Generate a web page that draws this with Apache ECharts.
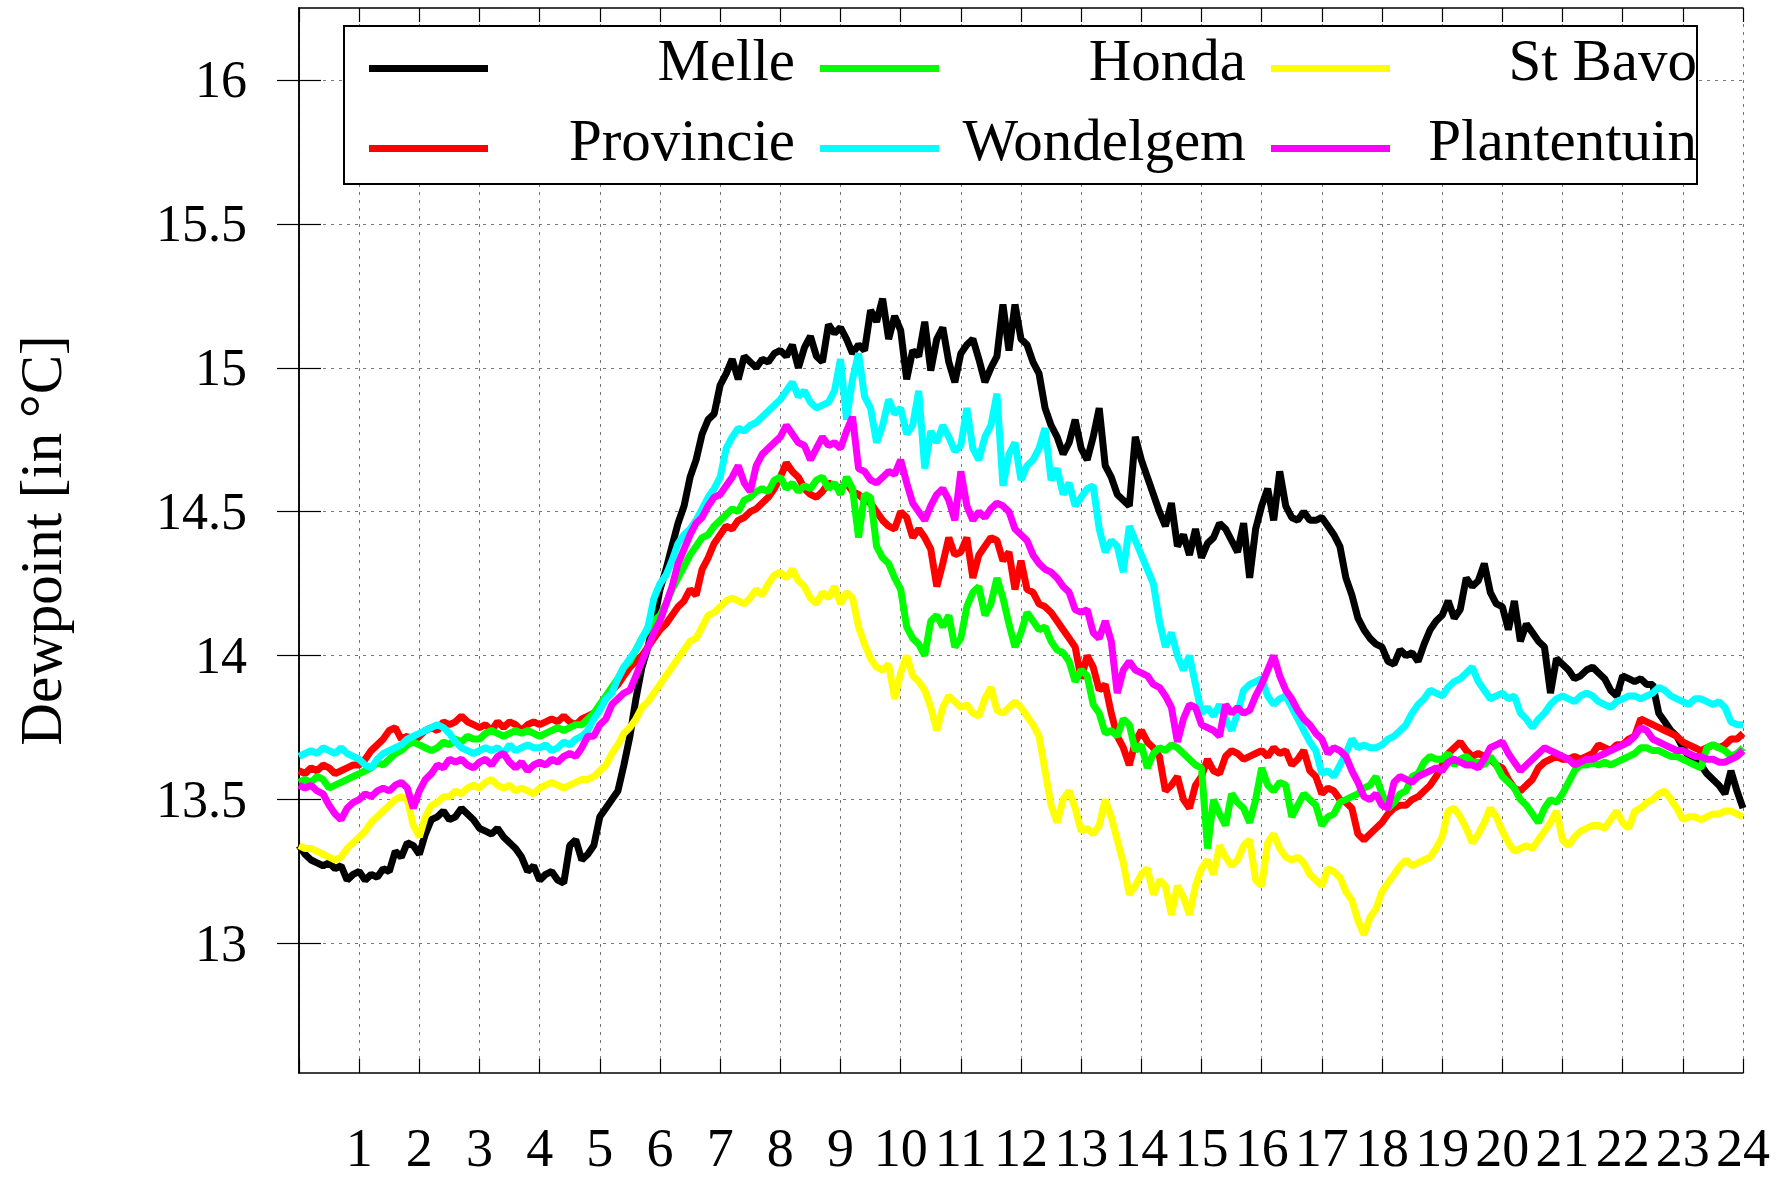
<!DOCTYPE html>
<html>
<head>
<meta charset="utf-8">
<script src="https://cdn.jsdelivr.net/npm/echarts@6/dist/echarts.min.js"></script>
<style>html,body{margin:0;padding:0;background:#fff}#c{width:1780px;height:1178px}</style>
</head>
<body>
<div id="c"></div>
<script>
// Sampling step of the series, in hours (values start at hour 0)
const STEP = 0.1;
const X_TICKS = [1,2,3,4,5,6,7,8,9,10,11,12,13,14,15,16,17,18,19,20,21,22,23,24];
const Y_TICKS = [13, 13.5, 14, 14.5, 15, 15.5, 16];
const NAMES = ['Melle', 'Provincie', 'Honda', 'Wondelgem', 'St Bavo', 'Plantentuin'];
const COLORS = ['#000000', '#ff0000', '#00ff00', '#00ffff', '#ffff00', '#ff00ff'];

const MELLE = [
13.34,13.31,13.29,13.28,13.27,13.28,13.26,13.27,13.22,13.24,
13.25,13.22,13.24,13.23,13.26,13.25,13.32,13.30,13.35,13.34,
13.31,13.38,13.43,13.44,13.46,13.43,13.44,13.47,13.45,13.43,
13.40,13.39,13.38,13.40,13.37,13.35,13.33,13.30,13.25,13.27,
13.22,13.24,13.25,13.22,13.21,13.34,13.36,13.29,13.31,13.34,
13.44,13.47,13.50,13.53,13.62,13.72,13.85,13.96,14.03,14.12,
14.23,14.30,14.38,14.46,14.52,14.62,14.68,14.77,14.82,14.84,
14.94,14.98,15.03,14.96,15.04,15.02,15.00,15.03,15.02,15.05,
15.06,15.04,15.08,15.00,15.07,15.11,15.04,15.02,15.15,15.12,
15.14,15.10,15.05,15.08,15.06,15.20,15.16,15.24,15.10,15.18,
15.13,14.96,15.06,15.04,15.16,14.99,15.10,15.14,15.02,14.95,
15.05,15.08,15.10,15.03,14.95,15.00,15.04,15.22,15.06,15.22,
15.10,15.08,15.02,14.98,14.86,14.80,14.76,14.70,14.74,14.82,
14.72,14.68,14.76,14.86,14.66,14.62,14.56,14.54,14.52,14.76,
14.68,14.62,14.56,14.50,14.45,14.53,14.38,14.42,14.35,14.44,
14.34,14.39,14.41,14.46,14.44,14.40,14.36,14.46,14.27,14.44,
14.52,14.58,14.47,14.64,14.52,14.48,14.47,14.50,14.47,14.47,
14.48,14.45,14.42,14.38,14.27,14.21,14.13,14.09,14.06,14.04,
14.03,13.98,13.97,14.02,14.00,14.01,13.98,14.04,14.09,14.12,
14.14,14.19,14.13,14.16,14.27,14.24,14.26,14.32,14.22,14.18,
14.17,14.09,14.19,14.05,14.11,14.08,14.05,14.03,13.87,13.99,
13.97,13.95,13.92,13.93,13.95,13.96,13.94,13.92,13.88,13.86,
13.93,13.92,13.91,13.92,13.90,13.90,13.80,13.77,13.74,13.72,
13.68,13.65,13.63,13.62,13.59,13.57,13.55,13.52,13.60,13.53,
13.47];

const PROVINCIE = [
13.60,13.59,13.61,13.60,13.62,13.61,13.59,13.60,13.61,13.62,
13.62,13.64,13.67,13.69,13.71,13.74,13.75,13.71,13.72,13.70,
13.72,13.74,13.75,13.74,13.77,13.76,13.77,13.79,13.77,13.76,
13.75,13.76,13.74,13.77,13.75,13.77,13.76,13.74,13.76,13.77,
13.76,13.77,13.78,13.77,13.79,13.77,13.76,13.78,13.79,13.80,
13.82,13.85,13.88,13.90,13.93,13.96,13.98,14.00,14.03,14.06,
14.09,14.11,14.14,14.17,14.19,14.23,14.21,14.30,14.34,14.39,
14.42,14.45,14.44,14.47,14.48,14.50,14.51,14.53,14.55,14.58,
14.62,14.67,14.64,14.62,14.58,14.56,14.55,14.57,14.60,14.59,
14.58,14.60,14.57,14.56,14.54,14.53,14.50,14.47,14.45,14.44,
14.50,14.48,14.41,14.44,14.41,14.37,14.24,14.32,14.41,14.35,
14.36,14.41,14.27,14.35,14.38,14.41,14.40,14.33,14.36,14.23,
14.33,14.23,14.22,14.18,14.17,14.15,14.12,14.09,14.06,14.03,
13.92,14.00,13.96,13.88,13.90,13.80,13.72,13.68,13.62,13.70,
13.74,13.70,13.68,13.65,13.53,13.55,13.58,13.50,13.47,13.55,
13.58,13.64,13.60,13.59,13.65,13.67,13.66,13.64,13.65,13.66,
13.67,13.65,13.68,13.66,13.67,13.62,13.64,13.67,13.60,13.58,
13.52,13.54,13.53,13.50,13.49,13.47,13.38,13.36,13.38,13.40,
13.42,13.45,13.47,13.48,13.48,13.50,13.51,13.53,13.55,13.58,
13.62,13.66,13.68,13.70,13.67,13.65,13.66,13.65,13.64,13.62,
13.61,13.57,13.54,13.53,13.55,13.57,13.61,13.63,13.64,13.65,
13.64,13.64,13.65,13.64,13.65,13.66,13.69,13.68,13.67,13.69,
13.69,13.71,13.72,13.78,13.77,13.76,13.75,13.74,13.73,13.72,
13.70,13.69,13.68,13.67,13.68,13.69,13.68,13.69,13.71,13.71,
13.73];

const HONDA = [
13.56,13.57,13.56,13.58,13.57,13.54,13.55,13.56,13.57,13.58,
13.59,13.60,13.61,13.63,13.62,13.64,13.66,13.67,13.69,13.70,
13.69,13.68,13.67,13.68,13.70,13.69,13.71,13.70,13.72,13.71,
13.71,13.73,13.74,13.73,13.72,13.73,13.74,13.73,13.74,13.73,
13.72,13.73,13.74,13.75,13.74,13.75,13.76,13.76,13.78,13.80,
13.83,13.86,13.89,13.92,13.96,13.98,14.02,14.06,14.09,14.12,
14.14,14.18,14.23,14.27,14.31,14.35,14.38,14.41,14.42,14.45,
14.47,14.49,14.51,14.50,14.54,14.55,14.57,14.58,14.57,14.61,
14.62,14.58,14.60,14.57,14.59,14.58,14.61,14.62,14.58,14.60,
14.56,14.62,14.58,14.41,14.56,14.55,14.38,14.34,14.32,14.27,
14.23,14.10,14.06,14.04,14.00,14.12,14.14,14.10,14.14,14.03,
14.06,14.17,14.22,14.24,14.14,14.18,14.27,14.20,14.11,14.03,
14.08,14.15,14.12,14.09,14.10,14.05,14.02,14.01,13.98,13.91,
13.95,13.93,13.83,13.80,13.73,13.74,13.72,13.78,13.76,13.67,
13.69,13.61,13.66,13.68,13.67,13.69,13.68,13.66,13.64,13.62,
13.61,13.33,13.50,13.45,13.41,13.52,13.49,13.47,13.42,13.50,
13.61,13.55,13.53,13.56,13.55,13.44,13.48,13.52,13.50,13.48,
13.41,13.44,13.45,13.49,13.50,13.51,13.52,13.54,13.55,13.58,
13.52,13.47,13.49,13.52,13.53,13.58,13.59,13.63,13.65,13.64,
13.64,13.66,13.62,13.64,13.65,13.63,13.63,13.62,13.65,13.62,
13.58,13.56,13.54,13.50,13.48,13.45,13.42,13.47,13.50,13.49,
13.52,13.56,13.60,13.62,13.62,13.63,13.62,13.63,13.62,13.63,
13.64,13.65,13.66,13.68,13.68,13.67,13.67,13.66,13.65,13.65,
13.64,13.63,13.62,13.61,13.68,13.69,13.68,13.67,13.65,13.66,
13.68];

const WONDELGEM = [
13.65,13.66,13.67,13.66,13.68,13.67,13.66,13.68,13.66,13.65,
13.64,13.62,13.61,13.64,13.66,13.67,13.68,13.69,13.71,13.72,
13.73,13.74,13.75,13.76,13.75,13.73,13.70,13.68,13.67,13.66,
13.67,13.68,13.67,13.68,13.66,13.69,13.67,13.68,13.69,13.68,
13.68,13.69,13.67,13.68,13.70,13.69,13.71,13.72,13.74,13.78,
13.81,13.85,13.87,13.92,13.96,13.99,14.02,14.06,14.10,14.20,
14.25,14.28,14.33,14.39,14.42,14.44,14.47,14.51,14.55,14.58,
14.62,14.72,14.76,14.79,14.78,14.80,14.81,14.83,14.85,14.87,
14.89,14.92,14.95,14.90,14.92,14.88,14.86,14.87,14.88,14.92,
15.03,14.82,14.96,15.05,14.90,14.86,14.74,14.80,14.89,14.84,
14.86,14.77,14.80,14.92,14.65,14.78,14.74,14.80,14.76,14.71,
14.73,14.86,14.72,14.68,14.76,14.80,14.91,14.59,14.70,14.74,
14.61,14.66,14.68,14.72,14.79,14.61,14.65,14.56,14.60,14.52,
14.55,14.58,14.59,14.44,14.36,14.40,14.38,14.29,14.45,14.40,
14.35,14.30,14.25,14.12,14.03,14.08,14.00,13.95,14.00,13.90,
13.80,13.82,13.79,13.83,13.78,13.74,13.80,13.88,13.90,13.91,
13.92,13.86,13.83,13.85,13.86,13.82,13.78,13.74,13.70,13.67,
13.59,13.60,13.58,13.62,13.66,13.71,13.68,13.69,13.68,13.68,
13.69,13.71,13.72,13.74,13.76,13.80,13.83,13.85,13.88,13.87,
13.86,13.89,13.91,13.92,13.94,13.96,13.91,13.88,13.85,13.86,
13.87,13.85,13.86,13.80,13.78,13.75,13.78,13.80,13.83,13.85,
13.86,13.85,13.84,13.86,13.87,13.86,13.84,13.83,13.82,13.84,
13.85,13.86,13.86,13.85,13.86,13.87,13.89,13.88,13.86,13.85,
13.84,13.83,13.85,13.85,13.84,13.83,13.84,13.82,13.77,13.76,
13.76];

const ST_BAVO = [
13.34,13.33,13.33,13.32,13.31,13.30,13.29,13.30,13.33,13.35,
13.37,13.39,13.42,13.44,13.46,13.48,13.50,13.51,13.50,13.41,
13.37,13.44,13.48,13.49,13.51,13.51,13.53,13.52,13.54,13.55,
13.54,13.56,13.57,13.55,13.54,13.55,13.53,13.54,13.53,13.52,
13.54,13.55,13.56,13.55,13.54,13.55,13.56,13.57,13.57,13.58,
13.60,13.62,13.66,13.69,13.73,13.75,13.78,13.82,13.84,13.87,
13.90,13.93,13.96,13.99,14.02,14.05,14.06,14.10,14.14,14.15,
14.17,14.19,14.20,14.19,14.18,14.20,14.23,14.21,14.25,14.28,
14.29,14.27,14.30,14.26,14.24,14.20,14.18,14.22,14.20,14.24,
14.18,14.22,14.20,14.10,14.04,13.99,13.96,13.95,13.97,13.85,
13.94,14.00,13.93,13.91,13.88,13.82,13.74,13.82,13.86,13.84,
13.82,13.83,13.80,13.79,13.85,13.89,13.81,13.80,13.82,13.84,
13.82,13.79,13.76,13.72,13.60,13.48,13.42,13.50,13.53,13.47,
13.39,13.40,13.38,13.41,13.50,13.44,13.36,13.28,13.17,13.20,
13.24,13.26,13.17,13.22,13.20,13.10,13.20,13.16,13.10,13.20,
13.26,13.29,13.24,13.34,13.30,13.27,13.29,13.34,13.36,13.22,
13.20,13.35,13.38,13.33,13.30,13.29,13.30,13.28,13.24,13.22,
13.20,13.26,13.25,13.23,13.18,13.15,13.08,13.03,13.09,13.12,
13.18,13.21,13.24,13.27,13.29,13.27,13.28,13.29,13.30,13.33,
13.37,13.46,13.47,13.44,13.40,13.35,13.38,13.42,13.47,13.44,
13.39,13.35,13.32,13.33,13.34,13.33,13.36,13.39,13.42,13.46,
13.36,13.34,13.37,13.39,13.40,13.41,13.41,13.40,13.43,13.46,
13.42,13.40,13.46,13.47,13.49,13.50,13.52,13.53,13.50,13.47,
13.43,13.44,13.44,13.43,13.44,13.45,13.45,13.46,13.46,13.45,
13.44];

const PLANTENTUIN = [
13.55,13.54,13.55,13.53,13.52,13.48,13.45,13.43,13.47,13.49,
13.50,13.52,13.51,13.53,13.54,13.53,13.55,13.56,13.54,13.47,
13.53,13.57,13.59,13.62,13.61,13.64,13.63,13.64,13.62,13.61,
13.63,13.64,13.62,13.65,13.66,13.63,13.61,13.63,13.60,13.62,
13.63,13.62,13.64,13.63,13.65,13.66,13.65,13.68,13.72,13.72,
13.76,13.78,13.83,13.85,13.87,13.88,13.93,13.98,14.03,14.08,
14.12,14.18,14.24,14.32,14.37,14.42,14.46,14.48,14.52,14.55,
14.56,14.59,14.62,14.66,14.60,14.57,14.66,14.70,14.72,14.74,
14.76,14.80,14.77,14.74,14.73,14.68,14.72,14.76,14.73,14.74,
14.72,14.78,14.83,14.65,14.64,14.61,14.60,14.62,14.64,14.63,
14.68,14.60,14.53,14.50,14.47,14.52,14.56,14.58,14.54,14.47,
14.64,14.52,14.47,14.50,14.48,14.51,14.53,14.52,14.50,14.44,
14.42,14.40,14.35,14.32,14.30,14.29,14.27,14.24,14.22,14.16,
14.15,14.16,14.08,14.06,14.12,14.05,13.87,13.95,13.98,13.95,
13.94,13.93,13.90,13.89,13.86,13.82,13.70,13.78,13.83,13.82,
13.76,13.75,13.74,13.72,13.83,13.80,13.82,13.80,13.81,13.86,
13.90,13.95,14.00,13.93,13.88,13.85,13.81,13.78,13.76,13.73,
13.71,13.66,13.68,13.67,13.65,13.60,13.56,13.51,13.50,13.52,
13.48,13.47,13.56,13.58,13.57,13.56,13.58,13.59,13.60,13.61,
13.60,13.63,13.64,13.63,13.62,13.62,13.61,13.64,13.68,13.69,
13.70,13.66,13.63,13.60,13.62,13.64,13.66,13.68,13.67,13.66,
13.65,13.64,13.62,13.63,13.64,13.64,13.65,13.66,13.67,13.68,
13.69,13.70,13.72,13.75,13.74,13.71,13.70,13.69,13.68,13.67,
13.67,13.66,13.65,13.65,13.64,13.64,13.63,13.63,13.64,13.65,
13.67];

const SERIES_VALUES = [MELLE, PROVINCIE, HONDA, WONDELGEM, ST_BAVO, PLANTENTUIN];
const LEGEND_ROW1 = ['Melle', 'Honda', 'St Bavo'];
const LEGEND_ROW2 = ['Provincie', 'Wondelgem', 'Plantentuin'];

const FONT = 'Liberation Serif';
const chart = echarts.init(document.getElementById('c'), null, {renderer: 'svg'});

// legend key: a bar at the bottom of the key box, so the label sits a little above the bar
const KEY_ICON = 'path://M0,0h0.01v0.01h-0.01z M0,18h119v7h-119z';
const legendBase = {
  left: 369, padding: 0, itemGap: 25, itemWidth: 119, itemHeight: 25, icon: KEY_ICON,
  formatter: n => '{r|' + n + '}',
  textStyle: { color: '#000', rich: { r: { width: 302, align: 'right', fontSize: 59, fontFamily: FONT, color: '#000', lineHeight: 54 } } },
  selectedMode: false
};

const gridLine = { show: true, lineStyle: { color: '#777', width: 1, type: [3, 5] } };

chart.setOption({
  animation: false,
  backgroundColor: '#fff',
  color: COLORS,
  grid: { left: 299, right: 37, top: 8, bottom: 105, containLabel: false, outerBoundsMode: 'none' },
  legend: [
    Object.assign({}, legendBase, { top: 30, data: LEGEND_ROW1 }),
    Object.assign({}, legendBase, { top: 110, data: LEGEND_ROW2 })
  ],
  graphic: [{
    type: 'rect', z: 1, silent: true,
    shape: { x: 344, y: 26, width: 1353, height: 158 },
    style: { fill: '#fff', stroke: '#000', lineWidth: 2 }
  }],
  xAxis: [{
    type: 'value', min: 0, max: 24, interval: 1,
    axisLine: { show: true, lineStyle: { color: '#000', width: 1.5 } },
    axisTick: { show: true, inside: true, length: 14, lineStyle: { color: '#000', width: 1.2 } },
    axisLabel: { margin: 48, fontFamily: FONT, fontSize: 54, lineHeight: 54, color: '#000',
      customValues: X_TICKS, formatter: v => String(v) },
    splitLine: gridLine
  }, {
    type: 'value', min: 0, max: 24, interval: 1, position: 'top',
    axisLine: { show: true, lineStyle: { color: '#000', width: 1.5 } },
    axisTick: { show: true, inside: true, length: 14, lineStyle: { color: '#000', width: 1.2 } },
    axisLabel: { show: false }, splitLine: { show: false }
  }],
  yAxis: [{
    type: 'value', min: 12.55, max: 16.25,
    name: 'Dewpoint [in °C]', nameLocation: 'middle', nameGap: 229,
    nameTextStyle: { fontFamily: FONT, fontSize: 59, color: '#000' },
    axisLine: { show: true, lineStyle: { color: '#000', width: 1.5 } },
    axisTick: { show: true, inside: true, length: 22, customValues: Y_TICKS, lineStyle: { color: '#000', width: 1.2 } },
    axisLabel: { margin: 52, fontFamily: FONT, fontSize: 52, color: '#000', customValues: Y_TICKS, formatter: v => String(v) },
    splitLine: gridLine
  }, {
    type: 'value', min: 12.55, max: 16.25, position: 'right',
    axisLine: { show: true, lineStyle: { color: '#000', width: 1.5 } },
    axisTick: { show: true, inside: true, length: 22, customValues: Y_TICKS, lineStyle: { color: '#000', width: 1.2 } },
    axisLabel: { show: false }, splitLine: { show: false }
  }],
  series: NAMES.map((name, k) => ({
    name: name, type: 'line', symbol: 'none', showSymbol: false,
    lineStyle: { width: 7, color: COLORS[k] }, itemStyle: { color: COLORS[k] },
    z: 2 + k,
    data: SERIES_VALUES[k].map((v, i) => [+(i * STEP).toFixed(2), v])
  }))
});
</script>
</body>
</html>
